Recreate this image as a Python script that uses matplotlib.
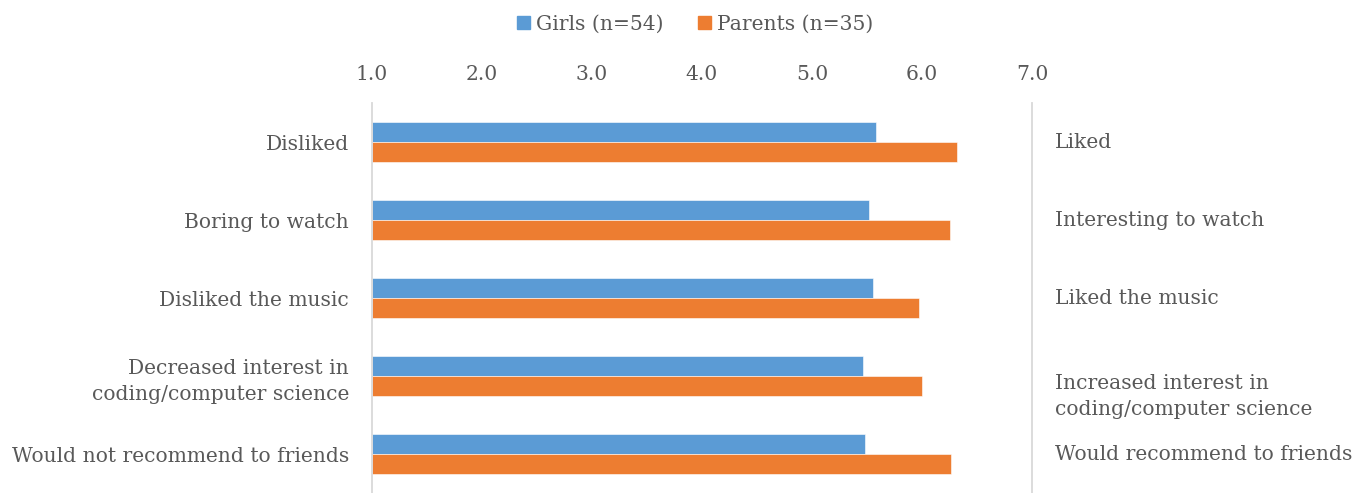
import matplotlib
matplotlib.use("Agg")
import matplotlib.pyplot as plt
from matplotlib.patches import Patch

left_labels = ["Disliked", "Boring to watch", "Disliked the music",
               "Decreased interest in\ncoding/computer science",
               "Would not recommend to friends"]
right_labels = ["Liked", "Interesting to watch", "Liked the music",
                "Increased interest in\ncoding/computer science",
                "Would recommend to friends"]
girls = [5.58, 5.52, 5.55, 5.46, 5.48]
parents = [6.32, 6.25, 5.97, 6.00, 6.26]
series_names = ["Girls (n=54)", "Parents (n=35)"]
xticks = [1.0, 2.0, 3.0, 4.0, 5.0, 6.0, 7.0]

BLUE = "#5B9BD5"
ORANGE = "#ED7D31"
TXT = "#595959"
GRID = "#D9D9D9"
FONT = ["DejaVu Serif"]
FS = 14.6

W, H = 1366, 493
fig = plt.figure(figsize=(W / 100, H / 100), dpi=100)
ax = fig.add_axes([372 / W, 0 / H, (1032 - 372) / W, (493 - 103) / H])

n = len(left_labels)
ys = list(range(n))
bh = 0.256
ax.barh([y - bh / 2 for y in ys], [g - 1 for g in girls], left=1, height=bh,
        color=BLUE, edgecolor="white", linewidth=0.4)
ax.barh([y + bh / 2 for y in ys], [p - 1 for p in parents], left=1, height=bh,
        color=ORANGE, edgecolor="white", linewidth=0.4)

ax.set_xlim(1, 7)
ax.set_ylim(n - 0.5, -0.5)
ax.set_xticks(xticks)
ax.set_xticklabels([f"{t:.1f}" for t in xticks], family=FONT, fontsize=FS, color=TXT)
ax.xaxis.tick_top()
ax.tick_params(axis="x", length=0, pad=14)
ax.set_yticks(ys)
ax.set_yticklabels(left_labels, family=FONT, fontsize=FS, color=TXT,
                   linespacing=1.5)
ax.tick_params(axis="y", length=0, pad=16.5)

for s in ["top", "bottom"]:
    ax.spines[s].set_visible(False)
for s in ["left", "right"]:
    ax.spines[s].set_color(GRID)
    ax.spines[s].set_linewidth(1.3)

for y, lab in zip(ys, right_labels):
    yy = y + (0.26 if "\n" in lab else 0.01)
    ax.text(1.0 + (1055 - 372) / 110, yy, lab, family=FONT, fontsize=FS,
            color=TXT, va="center", ha="left", linespacing=1.5, clip_on=False)

handles = [Patch(color=BLUE), Patch(color=ORANGE)]
leg = fig.legend(handles, series_names, loc="center", bbox_to_anchor=(695 / W, 1 - 24 / H),
                 ncol=2, frameon=False, prop={"family": FONT, "size": FS},
                 handlelength=0.65, handleheight=0.65, handletextpad=0.3, columnspacing=1.7)
for t in leg.get_texts():
    t.set_color(TXT)

fig.savefig("out.png", dpi=100)
